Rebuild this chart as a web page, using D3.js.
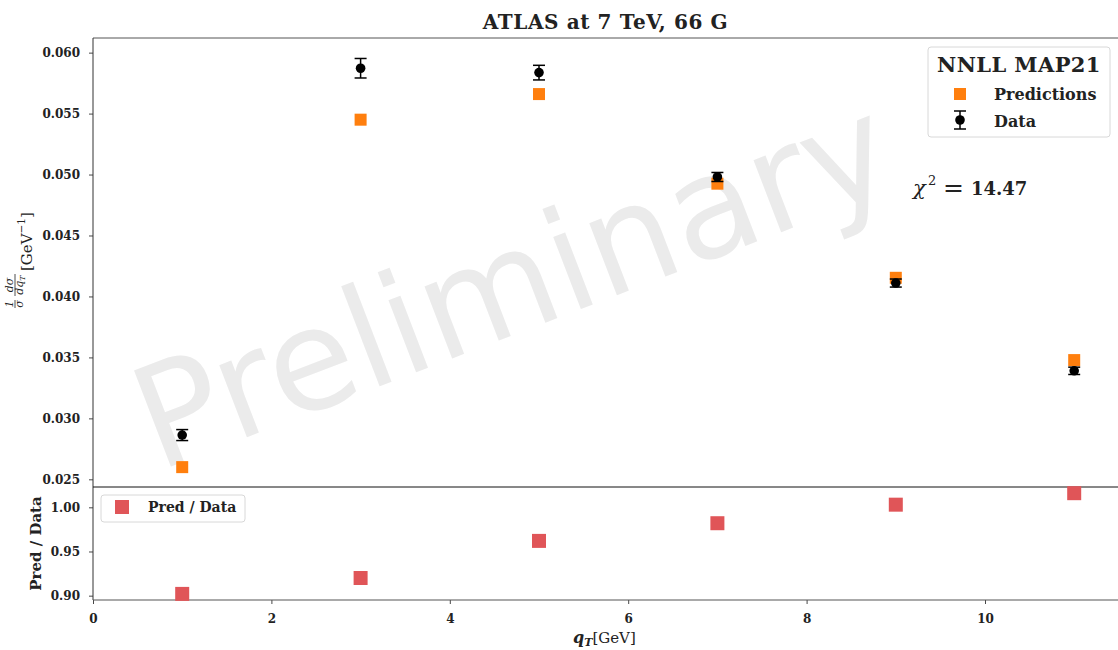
<!DOCTYPE html>
<html>
<head>
<meta charset="utf-8">
<script src="https://cdn.jsdelivr.net/npm/d3@7"></script>
<style>
  html, body { margin: 0; padding: 0; background: #fff; }
  svg { display: block; }
  .tick text { font-family: "DejaVu Serif", serif; font-weight: bold; font-size: 12px; fill: #222; }
</style>
</head>
<body>
<svg id="chart" width="1118" height="650"></svg>
<script>
// q_T bin centres (GeV)
const qT = [1, 3, 5, 7, 9, 11];
// measured normalised cross section and its uncertainty
const dataVals = [0.02863, 0.05872, 0.05836, 0.0498, 0.0411, 0.0339];
const dataErr  = [0.00045, 0.0008, 0.0006, 0.00037, 0.00033, 0.0003];
// NNLL MAP21 predictions
const predVals = [0.0260, 0.0545, 0.0566, 0.04925, 0.04153, 0.03478];
// prediction / data ratio
const ratioVals = [0.902, 0.920, 0.962, 0.982, 1.003, 1.016];
// tick labels
const xTicks = [0, 2, 4, 6, 8, 10];
const yTicksMain = [0.025, 0.030, 0.035, 0.040, 0.045, 0.050, 0.055, 0.060];
const yTicksRatio = [0.90, 0.95, 1.00];
const chi2 = "14.47";

const svg = d3.select("#chart");
const left = 93, right = 1118.8;
const mainTop = 38, mainBottom = 487, ratioBottom = 600;

const x = d3.scaleLinear().domain([0, 11.5]).range([left, right]);
const y = d3.scaleLinear().domain([0.02437, 0.0612]).range([mainBottom, mainTop]);
const yr = d3.scaleLinear().domain([0.8951, 1.023]).range([ratioBottom, mainBottom]);

const serif = '"DejaVu Serif", serif';

// watermark behind everything
svg.append("text")
  .attr("transform", "translate(512,283) rotate(-21)")
  .attr("text-anchor", "middle")
  .attr("dominant-baseline", "central")
  .style("font-family", '"DejaVu Sans", sans-serif')
  .style("font-size", "141px")
  .style("fill", "#ebebeb")
  .text("Preliminary");

// axes
function styleAxis(g) {
  g.selectAll(".domain").remove();
  g.selectAll(".tick line").attr("stroke", "#333").attr("stroke-width", 0.9);
}
svg.append("g")
  .attr("transform", `translate(${left},0)`)
  .call(d3.axisLeft(y).tickValues(yTicksMain).tickFormat(d3.format(".3f")).tickSize(4).tickPadding(9))
  .call(styleAxis);
svg.append("g")
  .attr("transform", `translate(${left},0)`)
  .call(d3.axisLeft(yr).tickValues(yTicksRatio).tickFormat(d3.format(".2f")).tickSize(4).tickPadding(9))
  .call(styleAxis);
svg.append("g")
  .attr("transform", `translate(0,${ratioBottom})`)
  .call(d3.axisBottom(x).tickValues(xTicks).tickFormat(d3.format("d")).tickSize(4).tickPadding(10))
  .call(styleAxis);

// spines
const spines = svg.append("g").attr("stroke", "#333").attr("stroke-width", 1).attr("fill", "none");
spines.append("line").attr("x1", left).attr("x2", 1118).attr("y1", mainTop).attr("y2", mainTop).attr("stroke", "#555");
spines.append("line").attr("x1", left).attr("x2", left).attr("y1", mainTop).attr("y2", ratioBottom);
spines.append("line").attr("x1", left).attr("x2", 1118).attr("y1", mainBottom).attr("y2", mainBottom).attr("stroke", "#111");
spines.append("line").attr("x1", left).attr("x2", 1118).attr("y1", ratioBottom).attr("y2", ratioBottom).attr("stroke", "#555");

// predictions
const predSize = 12;
svg.append("g").selectAll("rect").data(qT).join("rect")
  .attr("x", (d) => x(d) - predSize / 2)
  .attr("y", (d, i) => y(predVals[i]) - predSize / 2)
  .attr("width", predSize).attr("height", predSize)
  .attr("fill", "#ff7f0e");

// data with error bars
const dataG = svg.append("g");
const cap = 6;
qT.forEach((q, i) => {
  const cx = x(q), hi = y(dataVals[i] + dataErr[i]), lo = y(dataVals[i] - dataErr[i]);
  dataG.append("line").attr("x1", cx).attr("x2", cx).attr("y1", hi).attr("y2", lo)
    .attr("stroke", "#000").attr("stroke-width", 1.5);
  dataG.append("line").attr("x1", cx - cap).attr("x2", cx + cap).attr("y1", hi).attr("y2", hi)
    .attr("stroke", "#000").attr("stroke-width", 1.5);
  dataG.append("line").attr("x1", cx - cap).attr("x2", cx + cap).attr("y1", lo).attr("y2", lo)
    .attr("stroke", "#000").attr("stroke-width", 1.5);
  dataG.append("circle").attr("cx", cx).attr("cy", y(dataVals[i])).attr("r", 4.8).attr("fill", "#000");
});

// ratio panel
const ratioSize = 14;
svg.append("g").selectAll("rect").data(qT).join("rect")
  .attr("x", (d) => x(d) - ratioSize / 2)
  .attr("y", (d, i) => yr(ratioVals[i]) - ratioSize / 2)
  .attr("width", ratioSize).attr("height", ratioSize)
  .attr("fill", "#e05558");

// title
svg.append("text")
  .attr("x", (left + 1118) / 2).attr("y", 29)
  .attr("text-anchor", "middle")
  .style("font-family", serif).style("font-weight", "bold").style("font-size", "20px")
  .style("letter-spacing", "0.6px").style("fill", "#222")
  .text("ATLAS at 7 TeV, 66 G");

// main legend
const leg = svg.append("g");
leg.append("rect").attr("x", 928).attr("y", 47).attr("width", 182).attr("height", 90).attr("rx", 3)
  .attr("fill", "#fff").attr("fill-opacity", 0.85).attr("stroke", "#d8d8d8").attr("stroke-width", 1);
leg.append("text").attr("x", 1019).attr("y", 72).attr("text-anchor", "middle")
  .style("font-family", serif).style("font-weight", "bold").style("font-size", "21px").style("fill", "#222")
  .style("letter-spacing", "0.4px")
  .text("NNLL MAP21");
leg.append("rect").attr("x", 960 - 6).attr("y", 94 - 6).attr("width", 12).attr("height", 12).attr("fill", "#ff7f0e");
leg.append("text").attr("x", 994).attr("y", 100)
  .style("font-family", serif).style("font-weight", "bold").style("font-size", "16px").style("fill", "#222")
  .text("Predictions");
leg.append("line").attr("x1", 960).attr("x2", 960).attr("y1", 111).attr("y2", 129).attr("stroke", "#000").attr("stroke-width", 1.5);
leg.append("line").attr("x1", 954).attr("x2", 966).attr("y1", 111).attr("y2", 111).attr("stroke", "#000").attr("stroke-width", 1.5);
leg.append("line").attr("x1", 954).attr("x2", 966).attr("y1", 129).attr("y2", 129).attr("stroke", "#000").attr("stroke-width", 1.5);
leg.append("circle").attr("cx", 960).attr("cy", 120).attr("r", 4.8).attr("fill", "#000");
leg.append("text").attr("x", 994).attr("y", 127)
  .style("font-family", serif).style("font-weight", "bold").style("font-size", "16px").style("fill", "#222")
  .text("Data");

// chi-square annotation
const chi = svg.append("g").style("font-family", serif).style("fill", "#222");
chi.append("text").attr("x", 913).attr("y", 195).style("font-style", "italic").style("font-size", "21px").text("χ");
chi.append("text").attr("x", 928).attr("y", 185).style("font-size", "13px").text("2");
chi.append("text").attr("x", 943).attr("y", 196).style("font-size", "25px").text("=");
chi.append("text").attr("x", 971).attr("y", 195).style("font-size", "18px").style("font-weight", "bold").text(chi2);

// ratio legend
const rleg = svg.append("g");
rleg.append("rect").attr("x", 101).attr("y", 495).attr("width", 144).attr("height", 27).attr("rx", 3)
  .attr("fill", "#fff").attr("fill-opacity", 0.85).attr("stroke", "#d8d8d8").attr("stroke-width", 1);
rleg.append("rect").attr("x", 122 - 7).attr("y", 507 - 7).attr("width", 14).attr("height", 14).attr("fill", "#e05558");
rleg.append("text").attr("x", 148).attr("y", 512)
  .style("font-family", serif).style("font-weight", "bold").style("font-size", "14px").style("fill", "#222")
  .text("Pred / Data");

// y label of the main panel: 1/σ dσ/dq_T [GeV^-1]
const yl = svg.append("g").attr("transform", "translate(32,264) rotate(-90)")
  .style("font-family", serif).style("fill", "#222");
function frac(g, cx, num, w) {
  g.append("text").attr("x", cx).attr("y", -19.5).attr("text-anchor", "middle")
    .style("font-size", "11px").style("font-style", "italic").text(num);
  g.append("line").attr("x1", cx - w / 2).attr("x2", cx + w / 2).attr("y1", -17).attr("y2", -17)
    .attr("stroke", "#222").attr("stroke-width", 0.8);
  return g.append("text").attr("x", cx).attr("y", -9).attr("text-anchor", "middle")
    .style("font-size", "11px").style("font-style", "italic");
}
frac(yl, -40, "1", 8).text("σ");
const den = frac(yl, -21, "dσ", 22);
den.append("tspan").text("dq");
den.append("tspan").attr("dy", 2).style("font-size", "8px").text("T");
const gev = yl.append("text").attr("x", -7).attr("y", 0).style("font-size", "15px");
gev.append("tspan").text("[GeV");
gev.append("tspan").attr("dy", -7).style("font-size", "10.5px").text("−1");
gev.append("tspan").attr("dy", 7).text("]");

// y label of the ratio panel
svg.append("text")
  .attr("transform", `translate(41,${(mainBottom + ratioBottom) / 2}) rotate(-90)`)
  .attr("text-anchor", "middle")
  .style("font-family", serif).style("font-weight", "bold").style("font-size", "15px").style("fill", "#222")
  .text("Pred / Data");

// x label: q_T [GeV]
const xl = svg.append("text").attr("x", 573).attr("y", 643)
  .style("font-family", serif).style("fill", "#222");
xl.append("tspan").style("font-weight", "bold").style("font-style", "italic").style("font-size", "16px").text("q");
xl.append("tspan").attr("dy", 3).style("font-weight", "bold").style("font-style", "italic").style("font-size", "11px").text("T");
xl.append("tspan").attr("dy", -3).style("font-size", "15px").text("[GeV]");
</script>
</body>
</html>
